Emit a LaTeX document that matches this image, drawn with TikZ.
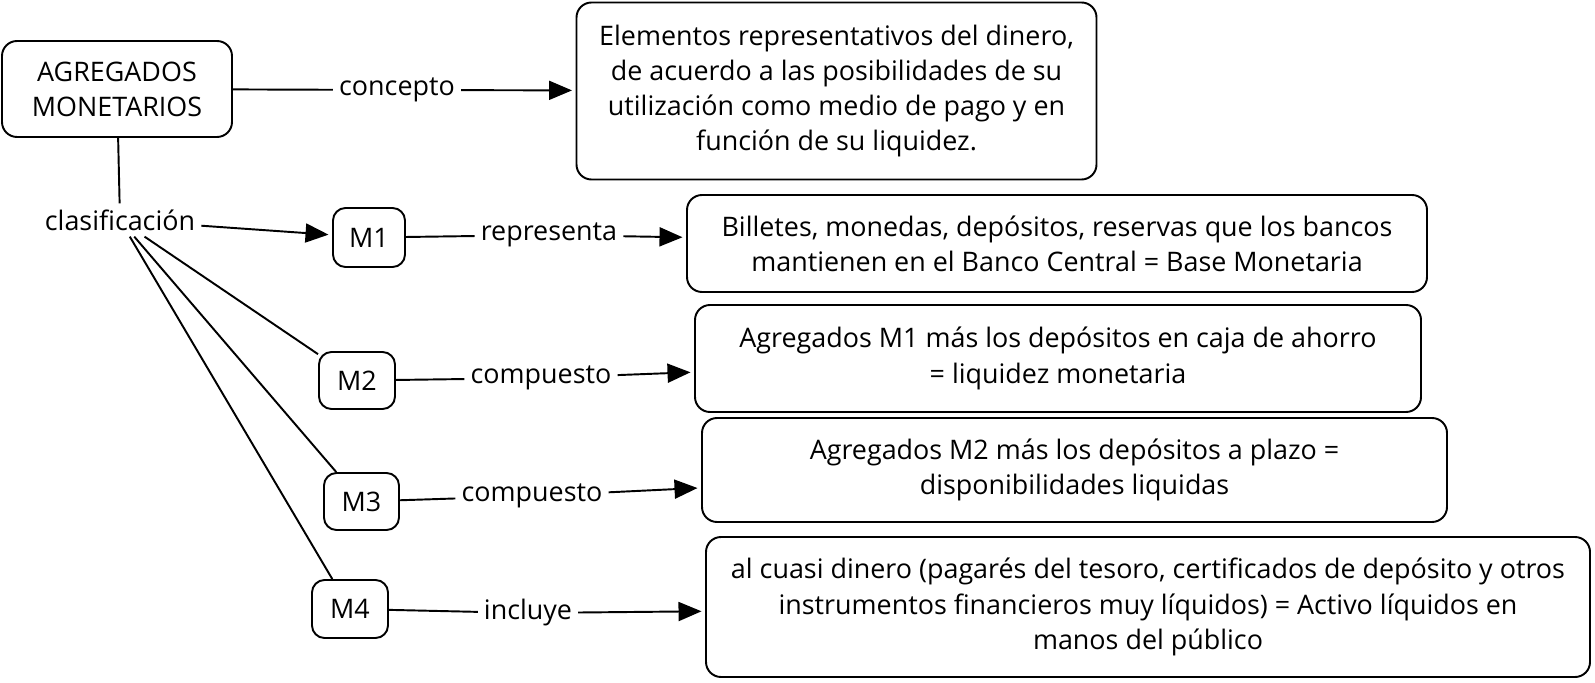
\documentclass[tikz,border=0pt]{standalone}
\usepackage{fontspec}
\setmainfont{Open Sans}
\usetikzlibrary{arrows.meta}

\begin{document}
\begin{tikzpicture}[
    every node/.style={font=\fontsize{15.3}{20}\selectfont},
    caja/.style={draw, line width=1.1pt, rounded corners=0.3cm, align=center},
    mcaja/.style={draw, line width=1.1pt, rounded corners=0.25cm},
    linea/.style={line width=1.1pt},
    flecha/.style={line width=1.1pt, -{Triangle[length=4.6mm,width=3.8mm]}, shorten >=2pt}
  ]
    \useasboundingbox (0,0) rectangle (31.9,-13.66);

    % Concepto principal
    \node [caja, minimum width=4.6cm, minimum height=1.92cm] (agg) at (2.34,-1.78) {AGREGADOS\\MONETARIOS};
    \node (concepto) at (7.94,-1.80) {concepto};
    \node [caja, minimum width=10.4cm, minimum height=3.54cm] (def) at (16.73,-1.82)
        {Elementos representativos del dinero,\\ de acuerdo a las posibilidades de su\\
         utilización como medio de pago y en\\ función de su liquidez.};
    \draw [linea] (agg) -- (concepto);
    \draw [flecha] (concepto) -- (def);

    % Clasificacion
    \node (clasif) at (2.40,-4.40) {clasificación};
    \draw [linea] (agg) -- (clasif);

    % M1
    \node [mcaja, minimum width=1.44cm, minimum height=1.18cm] (m1) at (7.38,-4.75) {M1};
    \node (rep) at (10.98,-4.70) {representa};
    \node [caja, minimum width=14.8cm, minimum height=1.94cm] (b1) at (21.14,-4.87)
        {Billetes, monedas, depósitos, reservas que los bancos\\ mantienen en el Banco Central = Base Monetaria};

    % M2
    \node [mcaja, minimum width=1.52cm, minimum height=1.14cm] (m2) at (7.14,-7.61) {M2};
    \node (comp1) at (10.82,-7.56) {compuesto};
    \node [caja, minimum width=14.52cm, minimum height=2.14cm] (b2) at (21.16,-7.17)
        {Agregados M1 más los depósitos en caja de ahorro\\ = liquidez monetaria};

    % M3
    \node [mcaja, minimum width=1.5cm, minimum height=1.14cm] (m3) at (7.23,-10.03) {M3};
    \node (comp2) at (10.64,-9.92) {compuesto};
    \node [caja, minimum width=14.9cm, minimum height=2.08cm] (b3) at (21.49,-9.40)
        {Agregados M2 más los depósitos a plazo =\\ disponibilidades liquidas};

    % M4
    \node [mcaja, minimum width=1.52cm, minimum height=1.16cm] (m4) at (7.00,-12.18) {M4};
    \node (incl) at (10.56,-12.26) {incluye};
    \node [caja, minimum width=17.68cm, minimum height=2.8cm] (b4) at (22.96,-12.14)
        {al cuasi dinero (pagarés del tesoro, certificados de depósito y otros\\
         instrumentos financieros muy líquidos) = Activo líquidos en\\ manos del público};

    % Conectores
    \draw [flecha] (clasif) -- (m1);
    \draw [linea] (clasif) -- (m2);
    \draw [linea] (clasif) -- (m3);
    \draw [linea] (clasif) -- (m4);
    \draw [linea] (m1) -- (rep);
    \draw [flecha] (rep) -- (b1);
    \draw [linea] (m2) -- (comp1);
    \draw [flecha] (comp1) -- (b2);
    \draw [linea] (m3) -- (comp2);
    \draw [flecha] (comp2) -- (b3);
    \draw [linea] (m4) -- (incl);
    \draw [flecha] (incl) -- (b4);
\end{tikzpicture}
\end{document}
